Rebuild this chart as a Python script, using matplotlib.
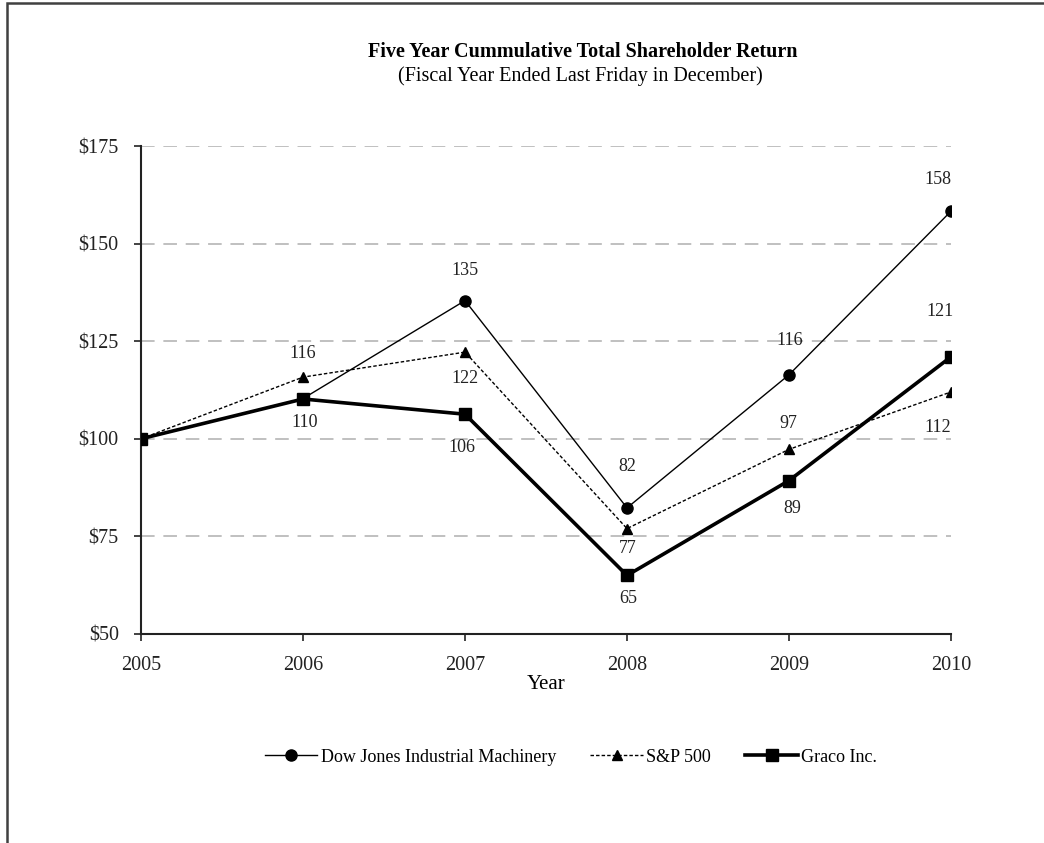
import matplotlib.pyplot as plt
from matplotlib.patches import Rectangle

years = [2005, 2006, 2007, 2008, 2009, 2010]
dow = [100, 110.3, 135.4, 82.3, 116.4, 158.3]
sp500 = [100, 115.8, 122.2, 77.0, 97.3, 112.0]
graco = [100, 110.2, 106.3, 65.0, 89.3, 121.0]

# labels shown on chart (None = no label)
dow_lbl = [None, None, "135", "82", "116", "158"]
sp_lbl = [None, "116", "122", "77", "97", "112"]
graco_lbl = [None, "110", "106", "65", "89", "121"]

# label offsets in pixels
dow_off = [None, None, (0, 30), (0, 41), (1, 34), (-13, 32)]
sp_off = [None, (0, 24), (0, -26), (1, -20), (-1, 26), (-13, -36)]
graco_off = [None, (2, -24), (-3, -33), (1, -23), (3, -28), (-11, 45)]

plt.rcParams['font.family'] = ['Liberation Serif', 'DejaVu Serif']

fig = plt.figure(figsize=(10.44, 8.43), dpi=100)
ax = fig.add_axes([141 / 1044, 1 - 634 / 843, 810 / 1044, 488 / 843])

ax.plot(years, dow, color="black", lw=1, marker="o", ms=8,
        label="Dow Jones Industrial Machinery", zorder=3)
ax.plot(years, sp500, color="black", lw=1, ls=(0, (2.5, 1.5)), marker="^", ms=7,
        label="S&P 500", zorder=3)
ax.plot(years, graco, color="black", lw=2.6, marker="s", ms=8,
        label="Graco Inc.", zorder=4)

for vals, lbls, offs in [(dow, dow_lbl, dow_off), (sp500, sp_lbl, sp_off),
                         (graco, graco_lbl, graco_off)]:
    for x, y, t, o in zip(years, vals, lbls, offs):
        if t is None:
            continue
        ax.annotate(t, (x, y), xytext=o, textcoords="offset pixels",
                    ha="center", va="center", fontsize=13, color="#222222")

ax.set_xlim(2005, 2010)
ax.set_ylim(50, 175)
ax.set_yticks([50, 75, 100, 125, 150, 175])
ax.set_yticklabels(["$50", "$75", "$100", "$125", "$150", "$175"])
ax.set_xticks(years)
ax.set_xticklabels([str(y) for y in years])
ax.tick_params(axis="both", direction="out", length=5, width=1.2, pad=11,
               colors="#222222", labelsize=14.5)

for yv in [75, 100, 125, 150, 175]:
    ax.axhline(yv, color="#c0c0c0", lw=1.4, ls=(0, (7, 4.5)), zorder=1)

for s in ["top", "right"]:
    ax.spines[s].set_visible(False)
for s in ["left", "bottom"]:
    ax.spines[s].set_linewidth(1.5)
    ax.spines[s].set_color("#222222")

ax.set_xlabel("Year", fontsize=15)
ax.xaxis.set_label_coords(0.5, -41 / 488)

fig.text(583 / 1044, 1 - 52 / 843, "Five Year Cummulative Total Shareholder Return",
         ha="center", va="center", fontsize=14.5, fontweight="bold")
fig.text(580 / 1044, 1 - 76 / 843, "(Fiscal Year Ended Last Friday in December)",
         ha="center", va="center", fontsize=14.5)

fig.legend(loc="center", bbox_to_anchor=(571 / 1044, 1 - 757 / 843), ncol=3,
           frameon=False, fontsize=13, handlelength=2.9, columnspacing=1.9,
           handletextpad=0.2)

fig.patches.append(Rectangle((7 / 1044, -0.1), 1.2, 1.1 - 3 / 843, transform=fig.transFigure,
                             fill=False, edgecolor="#404040", lw=1.8))

fig.savefig("out.png", dpi=100)
